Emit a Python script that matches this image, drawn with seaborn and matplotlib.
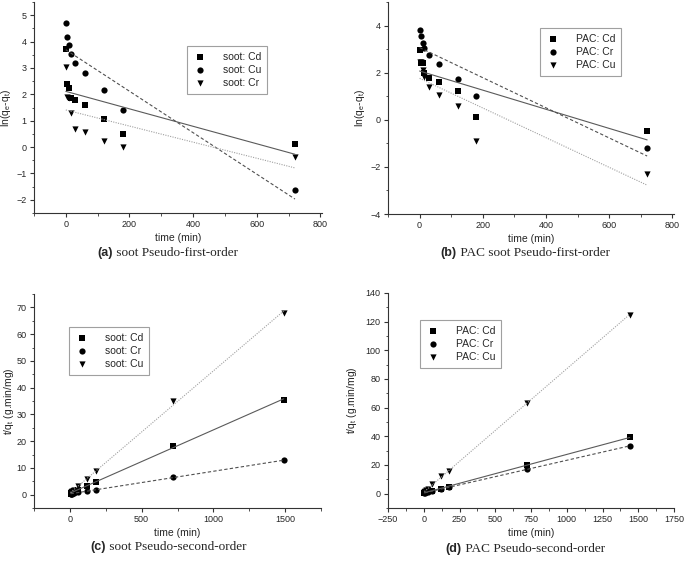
import numpy as np
import pandas as pd
import matplotlib
matplotlib.use("Agg")
import matplotlib.pyplot as plt
from matplotlib.ticker import MultipleLocator
import seaborn as sns

# ---------------- data ----------------
t_first = [0, 5, 10, 15, 30, 60, 120, 180, 720]

a_cd = [3.72, 2.38, 2.23, 1.85, 1.77, 1.60, 1.07, 0.48, 0.13]
a_cu = [4.72, 4.18, 3.86, 3.51, 3.19, 2.82, 2.18, 1.40, -1.62]
a_cr = [3.03, 1.88, 1.85, 1.31, 0.67, 0.57, 0.24, 0.00, -0.37]

b_cd = [2.96, 2.42, 2.40, 1.97, 1.78, 1.60, 1.22, 0.12, -0.47]
b_cr = [3.80, 3.55, 3.27, 3.03, 2.76, 2.37, 1.71, 1.00, -1.19]
b_cu = [2.44, 2.44, 2.12, 1.83, 1.41, 1.06, 0.57, -0.91, -2.30]

t_c = [5, 10, 15, 30, 60, 120, 180, 720, 1490]
c_cd = [0.4, 0.6, 0.9, 1.3, 1.9, 3.2, 4.9, 18.2, 35.5]
c_cr = [0.2, 0.3, 0.4, 0.6, 0.9, 1.3, 1.8, 6.5, 12.8]
c_cu = [0.5, 0.8, 1.2, 1.8, 3.2, 6.0, 8.9, 35.0, 67.9]

t_d = [5, 10, 15, 30, 60, 120, 180, 720, 1440]
d_cd = [0.6, 0.9, 1.3, 1.6, 2.2, 3.4, 4.8, 20.0, 39.2]
d_cr = [0.4, 0.6, 0.9, 1.2, 1.8, 3.2, 4.5, 17.0, 33.3]
d_cu = [1.0, 1.6, 2.4, 3.3, 6.8, 12.2, 16.0, 63.0, 125.0]

captions = [("(a)", " soot Pseudo-first-order"),
            ("(b)", " PAC soot Pseudo-first-order"),
            ("(c)", " soot Pseudo-second-order"),
            ("(d)", " PAC Pseudo-second-order")]

# ---------------- style ----------------
sns.set_style("ticks")
plt.rcParams["font.family"] = ["Liberation Sans", "DejaVu Sans"]
plt.rcParams["mathtext.fontset"] = "custom"
plt.rcParams["mathtext.rm"] = "Liberation Sans"
plt.rcParams["mathtext.it"] = "Liberation Sans"

W, H = 685, 563
fig = plt.figure(figsize=(W / 100, H / 100), dpi=100)

def add_ax(l, r, top, bot):
    return fig.add_axes([l / W, 1 - bot / H, (r - l) / W, (bot - top) / H])

ax_a = add_ax(34, 322, 2, 213)
ax_b = add_ax(388, 674, 2, 214)
ax_c = add_ax(34, 321, 294, 508)
ax_d = add_ax(388, 674, 293, 508)

styles = [("s", "-", "#5a5a5a"), ("o", (0, (3, 2)), "#505050"), ("v", (0, (1, 1.2)), "#a0a0a0")]

def panel(ax, t, series, labels):
    for (mk, ls, lc), y, lab in zip(styles, series, labels):
        df = pd.DataFrame({"t": t, "y": y})
        sns.regplot(data=df, x="t", y="y", ax=ax, ci=None, marker=mk, label=lab,
                    scatter_kws={"s": 20, "color": "black", "linewidths": 0, "alpha": 1},
                    line_kws={"color": lc, "ls": ls, "lw": 0.8})

panel(ax_a, t_first, [a_cd, a_cu, a_cr], ["soot: Cd", "soot: Cu", "soot: Cr"])
panel(ax_b, t_first, [b_cd, b_cr, b_cu], ["PAC: Cd", "PAC: Cr", "PAC: Cu"])
panel(ax_c, t_c, [c_cd, c_cr, c_cu], ["soot: Cd", "soot: Cr", "soot: Cu"])
panel(ax_d, t_d, [d_cd, d_cr, d_cu], ["PAC: Cd", "PAC: Cr", "PAC: Cu"])

ax_a.set_xlim(-100, 805); ax_a.set_ylim(-2.5, 5.5)
ax_a.xaxis.set_major_locator(MultipleLocator(200)); ax_a.xaxis.set_minor_locator(MultipleLocator(100))
ax_a.yaxis.set_major_locator(MultipleLocator(1)); ax_a.yaxis.set_minor_locator(MultipleLocator(0.5))

ax_b.set_xlim(-100, 805); ax_b.set_ylim(-4, 5)
ax_b.xaxis.set_major_locator(MultipleLocator(200)); ax_b.xaxis.set_minor_locator(MultipleLocator(100))
ax_b.yaxis.set_major_locator(MultipleLocator(2)); ax_b.yaxis.set_minor_locator(MultipleLocator(1))

ax_c.set_xlim(-250, 1750); ax_c.set_ylim(-5, 75)
ax_c.xaxis.set_major_locator(MultipleLocator(500)); ax_c.xaxis.set_minor_locator(MultipleLocator(250))
ax_c.yaxis.set_major_locator(MultipleLocator(10)); ax_c.yaxis.set_minor_locator(MultipleLocator(5))
ax_c.set_xticks([0, 500, 1000, 1500])

ax_d.set_xlim(-250, 1750); ax_d.set_ylim(-10, 140)
ax_d.xaxis.set_major_locator(MultipleLocator(250)); ax_d.xaxis.set_minor_locator(MultipleLocator(125))
ax_d.yaxis.set_major_locator(MultipleLocator(20)); ax_d.yaxis.set_minor_locator(MultipleLocator(10))

for ax in (ax_a, ax_b, ax_c, ax_d):
    sns.despine(ax=ax)
    for sp in ("left", "bottom"):
        ax.spines[sp].set_color("#333333")
        ax.spines[sp].set_linewidth(0.8)
    ax.tick_params(which="major", direction="out", length=3, width=0.8,
                   color="#333333", labelsize=6.5)
    ax.tick_params(which="minor", direction="out", length=1.8, width=0.6, color="#333333")
    ax.tick_params(axis="x", pad=2)
    ax.tick_params(axis="y", pad=2.5)
    ax.set_xlabel("time (min)", fontsize=7.5, labelpad=3)

ylab_x = [(ax_a, -0.074), (ax_b, -0.073), (ax_c, -0.064), (ax_d, -0.103)]
for ax, xc in ylab_x:
    if ax in (ax_a, ax_b):
        ax.set_ylabel(r"ln(q$_e$-q$_t$)", fontsize=7.5)
    else:
        ax.set_ylabel(r"t/q$_t$ (g.min/mg)", fontsize=7.5)
    ax.yaxis.set_label_coords(xc, 0.5)

leg_pos = [(ax_a, 187, 46), (ax_b, 540, 28), (ax_c, 69, 327), (ax_d, 420, 320)]
for ax, x, y in leg_pos:
    leg = ax.legend(loc="upper left", bbox_to_anchor=(x / W, 1 - y / H),
                    bbox_transform=fig.transFigure, fontsize=7.5, frameon=True,
                    fancybox=False, edgecolor="#888888", borderpad=0.55,
                    handletextpad=1.5, labelspacing=0.3, handlelength=1.4,
                    borderaxespad=0)
    leg.get_frame().set_linewidth(0.8)

# captions: bold sans "(x)" followed by serif text
cap_pos = [(168, 253), (525, 253), (168, 547), (525, 549)]
fig.canvas.draw()
renderer = fig.canvas.get_renderer()
for (p1, p2), (cx, cy) in zip(captions, cap_pos):
    t1 = fig.text(0, 1 - cy / H, p1, fontsize=9, fontweight="bold",
                  family=["Liberation Sans"], va="center", ha="left")
    t2 = fig.text(0, 1 - cy / H, p2, fontsize=9.5,
                  family=["Liberation Serif"], va="center", ha="left")
    w1 = t1.get_window_extent(renderer).width
    w2 = t2.get_window_extent(renderer).width
    x0 = cx - (w1 + w2) / 2
    t1.set_x(x0 / W)
    t2.set_x((x0 + w1) / W)

fig.savefig("out.png", dpi=100, facecolor="white")
